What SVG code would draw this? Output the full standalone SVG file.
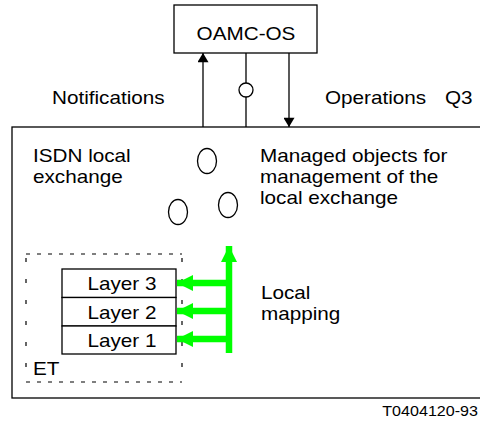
<svg xmlns="http://www.w3.org/2000/svg" width="480" height="423" viewBox="0 0 480 423">
<style>
text{font-family:"Liberation Sans",Arial,sans-serif;font-size:18px;fill:#000}
.ln{stroke:#000;stroke-width:1.3;fill:none}
.box{stroke:#000;stroke-width:1.3;fill:#fff}
.dash{stroke:#000;stroke-width:1.2;fill:none}
.g{stroke:#00ff00;stroke-width:6.5;fill:none}
.small{font-size:14px}
</style>
<defs>
<marker id="ah" viewBox="0 0 10 12" refX="10" refY="6" markerWidth="12" markerHeight="11" markerUnits="userSpaceOnUse" orient="auto"><path d="M0,0 L10,6 L0,12 Z" fill="#000"/></marker>
<marker id="gh" viewBox="0 0 16 16" refX="16" refY="8" markerWidth="16" markerHeight="16" markerUnits="userSpaceOnUse" orient="auto"><path d="M0,0 L16,8 L0,16 Z" fill="#00ff00"/></marker>
</defs>
<g id="exchange">
<rect class="box" x="12" y="127" width="472" height="271"/>
<text transform="translate(33,162) scale(1.15,1)">ISDN local</text>
<text transform="translate(33,183) scale(1.15,1)">exchange</text>
</g>
<g id="oamc">
<rect class="box" x="174" y="5" width="143" height="48"/>
<text transform="translate(246,40) scale(1.15,1)" text-anchor="middle">OAMC-OS</text>
</g>
<g id="managed-objects">
<ellipse class="ln" cx="207" cy="161" rx="9.5" ry="12.5"/>
<ellipse class="ln" cx="178" cy="212" rx="9.5" ry="12.5"/>
<ellipse class="ln" cx="228" cy="205" rx="9.5" ry="12.5"/>
<text transform="translate(260,162) scale(1.15,1)">Managed objects for</text>
<text transform="translate(260,183) scale(1.15,1)">management of the</text>
<text transform="translate(260,204) scale(1.15,1)">local exchange</text>
</g>
<g id="et">
<line class="dash" x1="26" y1="254" x2="182" y2="254" stroke-dasharray="4 7"/>
<line class="dash" x1="26" y1="382" x2="182" y2="382" stroke-dasharray="4 7"/>
<line class="dash" x1="26" y1="258" x2="26" y2="382" stroke-dasharray="4 17"/>
<line class="dash" x1="182" y1="258" x2="182" y2="382" stroke-dasharray="4 17"/>
<text transform="translate(33,375) scale(1.15,1)">ET</text>
</g>
<g id="layer3">
<rect class="box" x="62" y="269" width="114" height="28.5"/>
<text transform="translate(122,290) scale(1.15,1)" text-anchor="middle">Layer 3</text>
</g>
<g id="layer2">
<rect class="box" x="62" y="297.5" width="114" height="28.5"/>
<text transform="translate(122,318.5) scale(1.15,1)" text-anchor="middle">Layer 2</text>
</g>
<g id="layer1">
<rect class="box" x="62" y="326" width="114" height="28"/>
<text transform="translate(122,347) scale(1.15,1)" text-anchor="middle">Layer 1</text>
</g>
<g id="connectors">
<line class="ln" x1="203" y1="127" x2="203" y2="53" marker-end="url(#ah)"/>
<line class="ln" x1="246" y1="53" x2="246" y2="127"/>
<circle class="box" cx="246" cy="90" r="7"/>
<line class="ln" x1="289" y1="53" x2="289" y2="127" marker-end="url(#ah)"/>
<line class="g" x1="229" y1="353" x2="229" y2="246" marker-end="url(#gh)"/>
<line class="g" x1="229" y1="283" x2="177" y2="283" marker-end="url(#gh)"/>
<line class="g" x1="229" y1="311" x2="177" y2="311" marker-end="url(#gh)"/>
<line class="g" x1="229" y1="339" x2="177" y2="339" marker-end="url(#gh)"/>
</g>
<g id="labels">
<text transform="translate(52,104) scale(1.15,1)">Notifications</text>
<text transform="translate(325,104) scale(1.15,1)">Operations</text>
<text transform="translate(445,104) scale(1.15,1)">Q3</text>
<text transform="translate(261,299) scale(1.15,1)">Local</text>
<text transform="translate(261,320) scale(1.15,1)">mapping</text>
<text class="small" transform="translate(478,416) scale(1.15,1)" text-anchor="end">T0404120-93</text>
</g>
</svg>
